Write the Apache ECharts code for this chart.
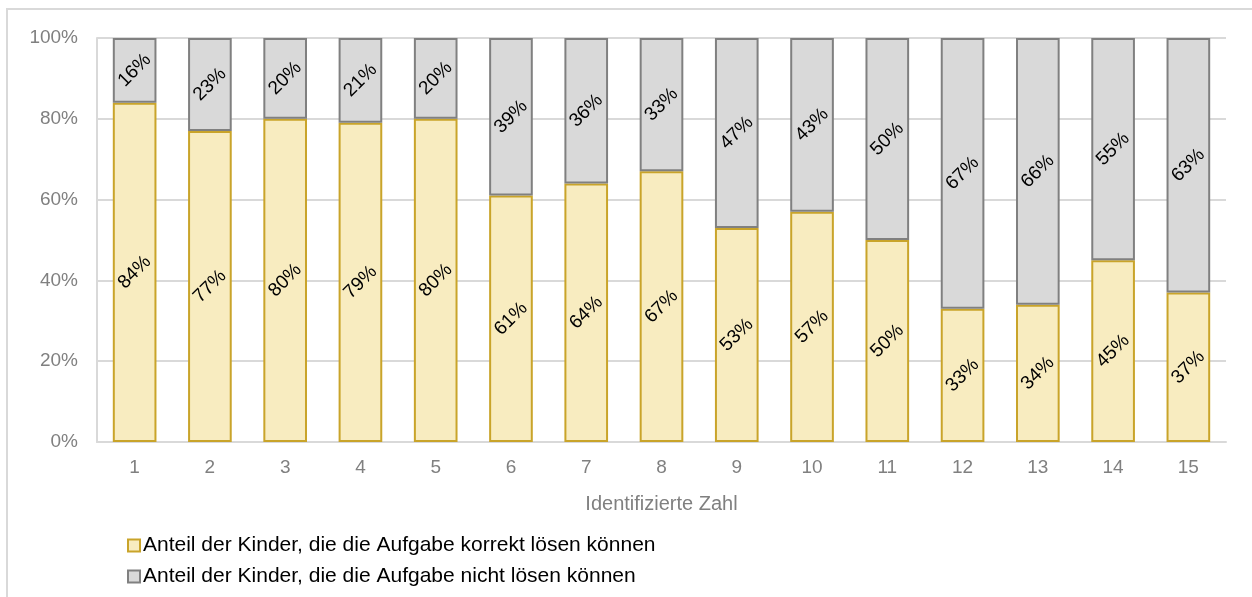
<!DOCTYPE html>
<html>
<head>
<meta charset="utf-8">
<script src="https://cdn.jsdelivr.net/npm/echarts@6/dist/echarts.min.js"></script>
<style>
  html, body { margin: 0; padding: 0; background: #ffffff; }
  #chart { width: 1252px; height: 597px; }
</style>
</head>
<body>
<div id="chart"></div>
<script>
// Kategorien (identifizierte Zahl) und Anteile in Prozent
const categories = ['1', '2', '3', '4', '5', '6', '7', '8', '9', '10', '11', '12', '13', '14', '15'];
const korrekt = [84, 77, 80, 79, 80, 61, 64, 67, 53, 57, 50, 33, 34, 45, 37];
const nichtGeloest = [16, 23, 20, 21, 20, 39, 36, 33, 47, 43, 50, 67, 66, 55, 63];
const seriesNames = [
  'Anteil der Kinder, die die Aufgabe korrekt lösen können',
  'Anteil der Kinder, die die Aufgabe nicht lösen können'
];
const axisTitle = 'Identifizierte Zahl';

const fontFamily = '"Liberation Sans", Arial, sans-serif';

const chart = echarts.init(document.getElementById('chart'), null, { renderer: 'canvas' });

const segmentLabel = {
  show: true,
  position: 'inside',
  rotate: 45,
  color: '#000000',
  fontSize: 19,
  fontFamily: fontFamily,
  formatter: p => p.value + '%'
};

chart.setOption({
  animation: false,
  backgroundColor: '#ffffff',
  graphic: [{
    type: 'rect',
    shape: { x: 7, y: 9, width: 1400, height: 800 },
    style: { fill: null, stroke: '#d9d9d9', lineWidth: 2 },
    silent: true,
    z: -1
  }],
  grid: { left: 97, right: 26, top: 38, bottom: 155, containLabel: false },
  legend: {
    orient: 'vertical',
    left: 122,
    top: 530,
    itemGap: 10,
    itemWidth: 12,
    itemHeight: 12,
    icon: 'rect',
    selectedMode: false,
    textStyle: { color: '#000000', fontSize: 21, fontFamily: fontFamily, padding: [0, 0, 0, -2] },
    data: seriesNames
  },
  xAxis: {
    type: 'category',
    data: categories,
    name: axisTitle,
    nameLocation: 'middle',
    nameGap: 52,
    nameTextStyle: { color: '#808080', fontSize: 20, fontFamily: fontFamily },
    axisLine: { show: true, lineStyle: { color: '#d9d9d9', width: 2 } },
    axisTick: { show: false },
    axisLabel: { color: '#808080', fontSize: 19, fontFamily: fontFamily, margin: 16 }
  },
  yAxis: {
    type: 'value',
    min: 0,
    max: 100,
    interval: 20,
    axisLine: { show: true, lineStyle: { color: '#d9d9d9', width: 2 } },
    axisTick: { show: false },
    axisLabel: { color: '#808080', fontSize: 19, fontFamily: fontFamily, margin: 19, formatter: '{value}%' },
    splitLine: { show: true, lineStyle: { color: '#d9d9d9', width: 2 } }
  },
  series: [
    {
      name: seriesNames[0],
      type: 'bar',
      stack: 'gesamt',
      barWidth: '58%',
      data: korrekt,
      itemStyle: { color: '#f8ecc0', borderColor: '#c9a42a', borderWidth: 2 },
      label: segmentLabel
    },
    {
      name: seriesNames[1],
      type: 'bar',
      stack: 'gesamt',
      barWidth: '58%',
      data: nichtGeloest,
      itemStyle: { color: '#d9d9d9', borderColor: '#808080', borderWidth: 2 },
      label: segmentLabel
    }
  ]
});
</script>
</body>
</html>
